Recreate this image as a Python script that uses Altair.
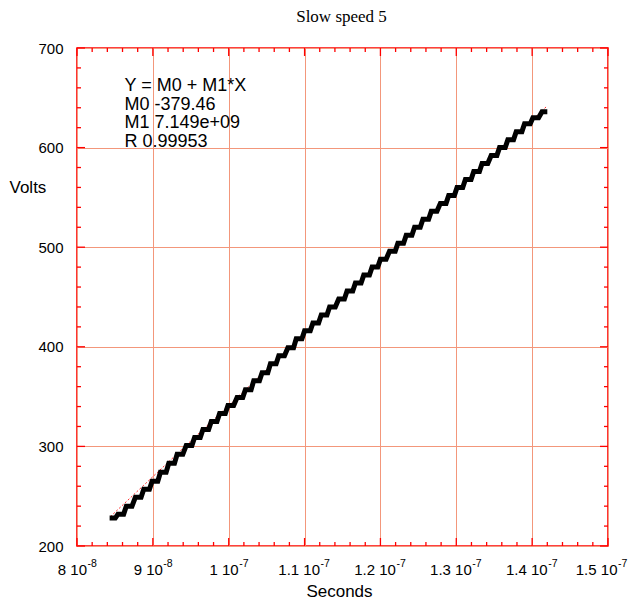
import altair as alt
import pandas as pd

title_text = "Slow speed 5"
x_title = "Seconds"
y_title = "Volts"
fit_text = ["Y = M0 + M1*X", "M0 -379.46", "M1 7.149e+09", "R 0.99953"]

# staircase: flat segments (start/end time in ns, level in volts)
step_start_ns = [84.3, 85.4, 86.5, 87.7, 88.8, 89.9, 91.0, 92.1, 93.2, 94.4,
                 95.5, 96.6, 97.7, 98.8, 99.9, 101.1, 102.2, 103.3, 104.4, 105.5,
                 106.6, 107.8, 108.9, 110.0, 111.1, 112.2, 113.3, 114.5, 115.6, 116.7,
                 117.8, 118.9, 120.0, 121.2, 122.3, 123.4, 124.5, 125.6, 126.7, 127.9,
                 129.0, 130.1, 131.2, 132.3, 133.4, 134.6, 135.7, 136.8, 137.9, 139.0,
                 140.1, 141.3]
step_end_ns = [85.05, 86.15, 87.25, 88.45, 89.55, 90.65, 91.75, 92.85, 93.95, 95.15,
               96.25, 97.35, 98.45, 99.55, 100.65, 101.85, 102.95, 104.05, 105.15, 106.25,
               107.35, 108.55, 109.65, 110.75, 111.85, 112.95, 114.05, 115.25, 116.35, 117.45,
               118.55, 119.65, 120.75, 121.95, 123.05, 124.15, 125.25, 126.35, 127.45, 128.65,
               129.75, 130.85, 131.95, 133.05, 134.15, 135.35, 136.45, 137.55, 138.65, 139.75,
               140.85, 142.0]
step_volts = [228, 232, 240, 249, 257, 265, 274, 283, 292, 301,
              309, 317, 325, 333, 341, 349, 357, 366, 374, 383,
              391, 399, 408, 416, 424, 432, 440, 448, 456, 464,
              472, 480, 488, 496, 504, 512, 520, 528, 536, 544,
              552, 560, 568, 576, 584, 592, 600, 608, 616, 624,
              630, 636]

# drawn fit line end points
fit_t_ns = [84.4, 142.0]
fit_v = [229.5, 642.0]

x_major = [80, 90, 100, 110, 120, 130, 140, 150]
x_label_mant = ["8 10", "9 10", "1 10", "1.1 10", "1.2 10", "1.3 10", "1.4 10", "1.5 10"]
x_label_exp = ["-8", "-8", "-7", "-7", "-7", "-7", "-7", "-7"]
x_minor = [v for v in range(80, 151, 2) if v % 10 != 0]
y_major = [200, 300, 400, 500, 600, 700]
y_minor = [v for v in range(200, 701, 20) if v % 100 != 0]

W, H = 531, 498
RED = "#FF0000"
GRID = "#F3977B"
SANS = "Liberation Sans"

rows = []
for s, e, v in zip(step_start_ns, step_end_ns, step_volts):
    rows.append({"t": s, "v": v})
    rows.append({"t": e, "v": v})
stairs = pd.DataFrame(rows)
stairs["order"] = range(len(stairs))

xscale = alt.Scale(domain=[80, 150], nice=False, zero=False)
yscale = alt.Scale(domain=[200, 700], nice=False, zero=False)

xaxis = alt.Axis(values=x_major, labels=False, grid=True, gridColor=GRID,
                 gridWidth=1, ticks=False, tickSize=0, domain=False, title=x_title,
                 titleFont=SANS, titleFontSize=17, titleFontWeight="normal", titleColor="#000",
                 titleX=262, titleY=50.5, titleBaseline="alphabetic")
yaxis = alt.Axis(values=y_major, grid=True, gridColor=GRID, gridWidth=1, ticks=False, tickSize=0,
                 domain=False, labelFont=SANS, labelFontSize=15, labelColor="#000", labelPadding=14,
                 title=y_title, titleFont=SANS, titleFontSize=17, titleFontWeight="normal",
                 titleColor="#000", titleAngle=0, titleAlign="left", titleBaseline="alphabetic",
                 titleX=-68, titleY=144, labelFlush=False)

X = lambda f: alt.X(f, scale=xscale, axis=xaxis)
Y = lambda f: alt.Y(f, scale=yscale, axis=yaxis)

fit_df = pd.DataFrame({"t": fit_t_ns, "v": fit_v})
fit = alt.Chart(fit_df).mark_line(color="#FF2A2A", strokeWidth=1, strokeDash=[2, 2]).encode(
    x=X("t:Q"), y=Y("v:Q"),
)

line = alt.Chart(stairs).mark_line(color="black", strokeWidth=5, strokeJoin="miter").encode(
    x=X("t:Q"), y=Y("v:Q"), order="order:Q",
)

def xticks(vals, length, top):
    df = pd.DataFrame({"t": vals})
    if top:
        y0, y1 = 0, length
    else:
        y0, y1 = H, H - length
    return alt.Chart(df).mark_rule(color=RED, strokeWidth=1.3).encode(
        x=X("t:Q"), y=alt.value(y0), y2=alt.value(y1))

def yticks(vals, length, right):
    df = pd.DataFrame({"v": vals})
    if right:
        x0, x1 = W, W - length
    else:
        x0, x1 = 0, length
    return alt.Chart(df).mark_rule(color=RED, strokeWidth=1.3).encode(
        y=Y("v:Q"), x=alt.value(x0), x2=alt.value(x1))

tick_layers = [
    xticks(x_major, 8, False), xticks(x_minor, 4, False),
    xticks(x_major, 8, True), xticks(x_minor, 4, True),
    yticks(y_major, 8, False), yticks(y_minor, 4, False),
    yticks(y_major, 8, True), yticks(y_minor, 4, True),
]

# x tick labels "m 10^e" drawn as mantissa + raised exponent
lab = pd.DataFrame({"t": x_major, "mant": x_label_mant, "exp": x_label_exp})
lab["grp"] = ["int" if "." not in m else "dec" for m in x_label_mant]
lab.loc[lab.index[-1], "grp"] = "last"
label_layers = []
for grp, dx in [("int", 10), ("dec", 15.5), ("last", 9.5)]:
    base = alt.Chart(lab).transform_filter(alt.datum.grp == grp)
    label_layers.append(base.mark_text(align="right", baseline="alphabetic", font=SANS, fontSize=15,
                                       dx=dx, color="black").encode(
        x=X("t:Q"), y=alt.value(H + 29), text="mant:N"))
    label_layers.append(base.mark_text(align="left", baseline="alphabetic", font=SANS, fontSize=10.5,
                                       dx=dx + 0.5, color="black").encode(
        x=X("t:Q"), y=alt.value(H + 21), text="exp:N"))

note = alt.Chart(pd.DataFrame({"txt": [fit_text]})).mark_text(
    align="left", baseline="alphabetic", font=SANS, fontSize=18, lineHeight=18.5, color="black"
).encode(text="txt", x=alt.value(47.5), y=alt.value(43))

title = alt.Chart(pd.DataFrame({"txt": [title_text]})).mark_text(
    align="center", baseline="alphabetic", font="Liberation Serif", fontSize=17, color="black"
).encode(text="txt:N", x=alt.value(W / 2 - 1), y=alt.value(-26))

chart = alt.layer(fit, line, *tick_layers, *label_layers, note, title).properties(
    width=W, height=H,
    autosize=alt.AutoSizeParams(type="none"),
    padding={"left": 69, "top": 40, "right": 20, "bottom": 54},
).configure(background="white", view=alt.ViewConfig(stroke=RED, strokeWidth=1.6))

chart.save("out.html", embed_options={"renderer": "svg", "actions": False})
